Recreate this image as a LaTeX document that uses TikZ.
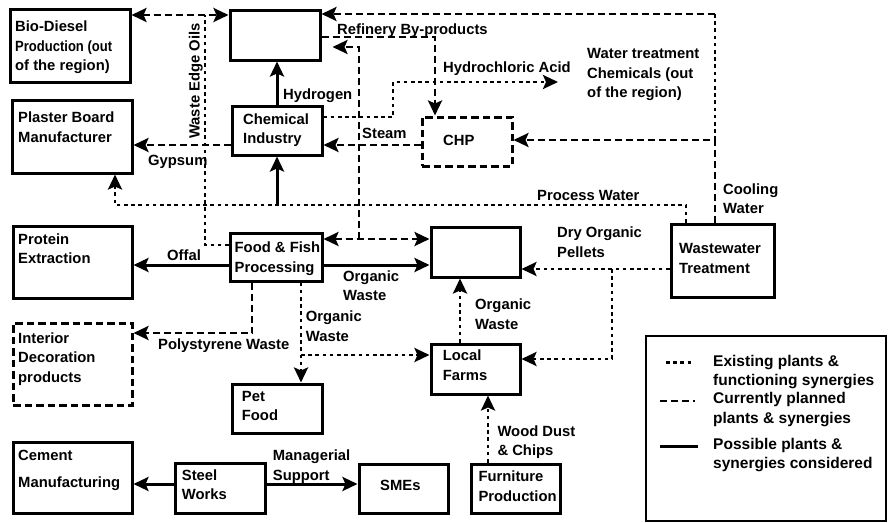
\documentclass[tikz,border=0pt]{standalone}
\usepackage{fontspec}
\setmainfont{Liberation Sans}
\newfontfamily\narrowbf{Liberation Sans}[FakeStretch=0.88]
\usetikzlibrary{arrows.meta}
\begin{document}
\begin{tikzpicture}[x=1pt,y=-1pt,
  box/.style={draw, line width=3pt, fill=white, inner sep=0pt},
  plannedbox/.style={box, dash pattern=on 7.5pt off 4pt},
  txt/.style={font=\fontsize{14.8}{19.5}\selectfont\bfseries, align=left,
    inner sep=0pt, anchor=north west, yshift=13.65pt},
  legtxt/.style={txt, font=\fontsize{15.5}{19.5}\selectfont\bfseries},
  flow/.style={line width=2.7pt, >={Stealth[length=15pt,width=14pt,inset=3pt]}},
  existing/.style={flow, dash pattern=on 3.6pt off 3.6pt},
  planned/.style={flow, dash pattern=on 7pt off 4pt},
  possible/.style={flow, line width=3pt},
]
\useasboundingbox[fill=white] (0,0) rectangle (888,522);

% ---------- boxes ----------
\node[box, line width=2.2pt, minimum width=240pt, minimum height=185pt] (legend) at (766,428.5) {};
\node[box, minimum width=120pt, minimum height=73pt] (biod) at (70,45.5) {};
\node[box, minimum width=90pt, minimum height=50pt] (refin) at (275,35) {};
\node[box, minimum width=120pt, minimum height=73pt] (plaster) at (72,136.5) {};
\node[box, minimum width=90pt, minimum height=49pt] (chem) at (277,130.5) {};
\node[plannedbox, minimum width=90pt, minimum height=49pt] (chp) at (467,141.5) {};
\node[box, minimum width=119pt, minimum height=72pt] (protein) at (72.5,262) {};
\node[box, minimum width=92pt, minimum height=48pt] (food) at (276,257) {};
\node[box, minimum width=89pt, minimum height=50pt] (mid) at (475.5,252) {};
\node[box, minimum width=103pt, minimum height=73pt] (wwt) at (722.5,260.5) {};
\node[plannedbox, minimum width=119pt, minimum height=82pt] (interior) at (72.5,364) {};
\node[box, minimum width=90pt, minimum height=49pt] (pet) at (277,408.5) {};
\node[box, minimum width=89pt, minimum height=50pt] (farms) at (475.5,369) {};
\node[box, minimum width=119pt, minimum height=71pt] (cement) at (72.5,477.5) {};
\node[box, minimum width=90pt, minimum height=50pt] (steel) at (220,488) {};
\node[box, minimum width=89pt, minimum height=49pt] (smes) at (403.5,488.5) {};
\node[box, minimum width=89pt, minimum height=49pt] (furn) at (515.5,488.5) {};

% ---------- junction points ----------
\coordinate (weo) at (205,15);
\coordinate (cw) at (715,140);
\coordinate (cwtop) at (715,14);
\coordinate (fj) at (359,239);
\coordinate (hcl) at (558,82);
\coordinate (pw) at (115,205);
\coordinate (petj) at (301,355);
\coordinate (dryj) at (612,269);

% ---------- connectors ----------
% waste edge oils
\draw[planned,<->] (biod.east |- weo) -- (refin.west |- weo);
\draw[existing] (food.west |- 0,245) -| (weo);
% cooling water
\draw[planned,->] (wwt.north -| cw) -- (cw) -- (chp.east |- cw);
\draw[existing] (cw) -- (cwtop);
\draw[planned,->] (cwtop) -- (refin.east |- cwtop);
% refinery by-products
\draw[planned,->] (refin.east |- 0,37) -| (chp.north -| 435,0);
% food <-> middle plant, branch to refinery
\draw[planned,<->] (food.east |- fj) -- (mid.west |- fj);
\draw[planned,->,shorten >=11pt] (fj) |- (refin.east |- 0,47);
% hydrochloric acid
\draw[existing,->] (chem.east |- 0,117) -| (393,82) -- (hcl);
% steam and gypsum
\draw[planned,->] (chp.west |- 0,145) -- (chem.east |- 0,145);
\draw[planned,->] (chem.west |- 0,145) -- (plaster.east |- 0,145);
% hydrogen
\draw[possible,->] (chem.north) -- (refin.south -| chem.north);
% process water
\draw[existing,->] (wwt.north -| 686,0) |- (pw) -- (plaster.south -| pw);
\draw[possible,->] (chem.south |- pw) -- (chem.south);
% offal and organic waste
\draw[possible,->] (food.west |- 0,265) -- (protein.east |- 0,265);
\draw[possible,->] (food.east |- 0,265) -- (mid.west |- 0,265);
% polystyrene waste
\draw[planned,->] (food.south -| 252,0) |- (interior.east |- 0,333);
% organic waste to pet food and farms
\draw[existing,->] (food.south -| petj) -- (pet.north -| petj);
\draw[existing,->] (petj) -- (farms.west |- petj);
\draw[existing,->] (farms.north -| 460,0) -- (mid.south -| 460,0);
% dry organic pellets
\draw[existing,->] (wwt.west |- dryj) -- (mid.east |- dryj);
\draw[existing,->] (dryj) |- (farms.east |- 0,359);
% wood dust
\draw[existing,->] (furn.north -| 488,0) -- (farms.south -| 488,0);
% steel works
\draw[possible,->] (steel.west |- 0,484) -- (cement.east |- 0,484);
\draw[possible,->] (steel.east |- 0,484) -- (smes.west |- 0,484);

% ---------- texts ----------
\node[txt] (biodT) at (15,31.5) {\strut Bio-Diesel\\{\narrowbf\bfseries Production (out}\\of the region)};
\node[txt] (plasterT) at (18,122.7) {\strut Plaster Board\\Manufacturer};
\node[txt] (chemT) at (243,124) {\strut Chemical\\Industry};
\node[txt] (hydT) at (283,99) {\strut Hydrogen};
\node[txt] (rbpT) at (337,34) {\strut Refinery By-products};
\node[txt] (hclT) at (443,72.3) {\strut Hydrochloric Acid};
\node[txt] (wtcT) at (587,58.3) {\strut Water treatment\\Chemicals (out\\of the region)};
\node[txt] (steamT) at (362,138.3) {\strut Steam};
\node[txt] (chpT) at (443,145) {\strut CHP};
\node[txt] (gypT) at (148,165.7) {\strut Gypsum};
\node[font=\fontsize{14.8}{19.5}\selectfont\bfseries, inner sep=0pt, rotate=90, anchor=base] (weoT) at (199.5,81) {Waste Edge Oils};
\node[txt] (pwT) at (537,200.5) {\strut Process Water};
\node[txt] (cwT) at (723,194) {\strut Cooling\\Water};
\node[txt] (dopT) at (557,237.3) {\strut Dry Organic\\Pellets};
\node[txt] (wwtT) at (679,253.3) {\strut Wastewater\\Treatment};
\node[txt] (protT) at (18,244) {\strut Protein\\Extraction};
\node[txt] (foodT) at (234.5,252.7) {\strut Food \& Fish\\Processing};
\node[txt] (offT) at (167,260.7) {\strut Offal};
\node[txt] (owaT) at (343,281) {\strut Organic\\Waste};
\node[txt] (owbT) at (475,309.3) {\strut Organic\\Waste};
\node[txt] (owcT) at (305.7,321.7) {\strut Organic\\Waste};
\node[txt] (polyT) at (158,349) {\strut Polystyrene Waste};
\node[txt] (intT) at (18,343) {\strut Interior\\Decoration\\products};
\node[txt] (petT) at (241.7,401) {\strut Pet\\Food};
\node[txt] (cemT) at (18,460) {\strut Cement\\[7.5pt]Manufacturing};
\node[txt] (steelT) at (181.7,480) {\strut Steel\\Works};
\node[txt] (msT) at (272.7,460.7) {\strut Managerial\\Support};
\node[txt] (smesT) at (380,490) {\strut SMEs};
\node[txt] (farmsT) at (442.7,360.7) {\strut Local\\Farms};
\node[txt] (wdT) at (497.3,436) {\strut Wood Dust\\\& Chips};
\node[txt] (furnT) at (478.3,481.7) {\strut Furniture\\Production};

% ---------- legend ----------
\draw[existing] (666,362.7) -- (693,362.7);
\draw[planned] (660,401) -- (695,401);
\draw[possible] (660,446) -- (698,446);
\node[legtxt] (legA) at (713,366) {\strut Existing plants \&\\functioning synergies};
\node[legtxt] (legB) at (713,403.3) {\strut Currently planned\\plants \& synergies};
\node[legtxt] (legC) at (713,449) {\strut Possible plants \&\\synergies considered};
\end{tikzpicture}
\end{document}
